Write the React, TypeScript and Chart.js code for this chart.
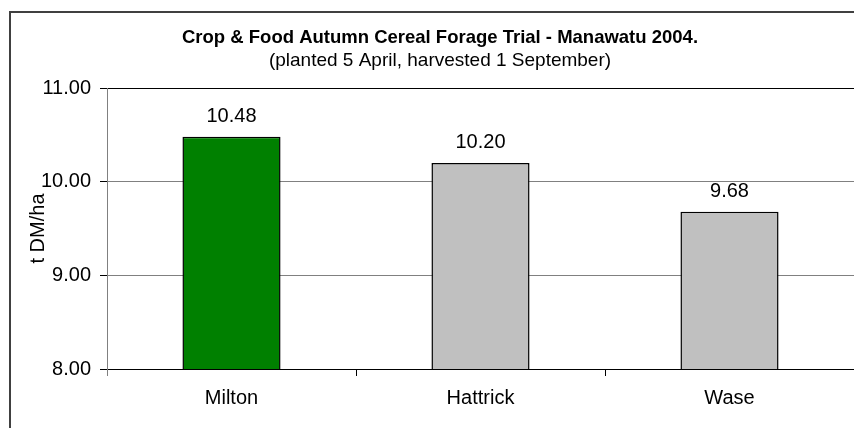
import React, { useEffect, useRef } from "react";
import { Chart, registerables } from "chart.js";

Chart.register(...registerables);

const categories = ["Milton", "Hattrick", "Wase"];
const yieldValues = [10.48, 10.2, 9.68];
const barColors = ["#008000", "#c0c0c0", "#c0c0c0"];
const yTicks = [8, 9, 10, 11];
const titleText = "Crop & Food Autumn Cereal Forage Trial - Manawatu 2004.";
const subtitleText = "(planted 5 April, harvested 1 September)";
const yAxisTitle = "t DM/ha";

const FONT = "'Liberation Sans', Arial, sans-serif";

const frame = {
  id: "frame",
  beforeDraw(chart: any) {
    const ctx = chart.ctx;
    ctx.save();
    ctx.fillStyle = "#ffffff";
    ctx.fillRect(0, 0, chart.width, chart.height);
    ctx.strokeStyle = "#404040";
    ctx.lineWidth = 2;
    ctx.beginPath();
    ctx.moveTo(10, chart.height + 2);
    ctx.lineTo(10, 12);
    ctx.lineTo(chart.width + 2, 12);
    ctx.stroke();
    ctx.restore();
  },
};

const valueLabels = {
  id: "valueLabels",
  afterDatasetsDraw(chart: any) {
    const ctx = chart.ctx;
    const meta = chart.getDatasetMeta(0);
    const data = chart.data.datasets[0].data as number[];
    ctx.save();
    ctx.font = `20px ${FONT}`;
    ctx.fillStyle = "#000";
    ctx.textAlign = "center";
    ctx.textBaseline = "alphabetic";
    meta.data.forEach((bar: any, i: number) => {
      ctx.fillText(data[i].toFixed(2), bar.x, bar.y - 15);
    });
    ctx.restore();
  },
};

export default function App() {
  const ref = useRef<HTMLCanvasElement>(null);
  useEffect(() => {
    if (!ref.current) return;
    const chart = new Chart(ref.current, {
      type: "bar",
      data: {
        labels: categories,
        datasets: [
          {
            data: yieldValues,
            backgroundColor: barColors,
            borderColor: "#000",
            borderWidth: 1.5,
            barPercentage: 0.394,
            categoryPercentage: 1,
          },
        ],
      },
      plugins: [frame, valueLabels],
      options: {
        responsive: false,
        animation: false,
        layout: { padding: { left: 26, right: 0, top: 0, bottom: 0 } },
        plugins: {
          legend: { display: false },
          tooltip: { enabled: false },
          title: {
            display: true,
            text: titleText,
            color: "#000",
            font: { family: FONT, size: 18.5, weight: "bold", lineHeight: 1.2 },
            padding: { top: 27, bottom: 0 },
          },
          subtitle: {
            display: true,
            text: subtitleText,
            color: "#000",
            font: { family: FONT, size: 19, weight: "normal", lineHeight: 1.2 },
            padding: { top: 0, bottom: 16 },
          },
        },
        scales: {
          x: {
            afterFit(scale: any) {
              scale.height = 59;
            },
            grid: {
              offset: true,
              drawOnChartArea: false,
              drawTicks: true,
              tickLength: 7,
              color: (c: any) => (c.index === 0 ? "#808080" : "#000"),
            },
            border: { display: true, color: "#000", width: 1 },
            ticks: {
              color: "#000",
              font: { family: FONT, size: 20, lineHeight: 1.2 },
              padding: 10,
              maxRotation: 0,
            },
          },
          y: {
            min: 8,
            max: 11,
            afterFit(scale: any) {
              scale.width = 81;
            },
            afterBuildTicks(scale: any) {
              scale.ticks = yTicks.map((v) => ({ value: v }));
            },
            grid: {
              drawTicks: true,
              tickLength: 7,
              color: (c: any) =>
                c.tick && (c.tick.value === 11 || c.tick.value === 8) ? "#000" : "#808080",
              tickColor: "#000",
            },
            border: { display: true, color: "#808080", width: 1 },
            ticks: {
              color: "#000",
              font: { family: FONT, size: 20, lineHeight: 1.2 },
              padding: 9,
              callback: (v: any) => Number(v).toFixed(2),
            },
            title: {
              display: true,
              text: yAxisTitle,
              color: "#000",
              font: { family: FONT, size: 20, lineHeight: 1.2 },
              padding: { top: 0, bottom: 0 },
            },
          },
        },
      },
    });
    return () => chart.destroy();
  }, []);
  return (
    <canvas
      ref={ref}
      width={854}
      height={428}
      style={{ position: "absolute", left: 0, top: 0, display: "block" }}
    />
  );
}
